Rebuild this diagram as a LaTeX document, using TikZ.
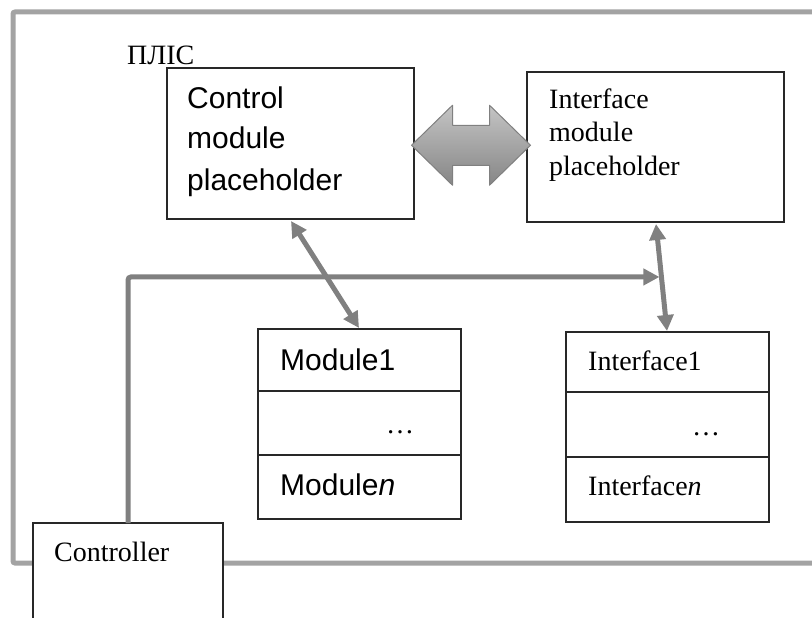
\documentclass[tikz,border=0pt]{standalone}
\usepackage{fontspec}
\setmainfont{Liberation Serif}
\newfontfamily\arialf{Liberation Sans}
\usetikzlibrary{arrows.meta,calc}
\definecolor{framegray}{RGB}{163,163,163}
\definecolor{conngray}{RGB}{128,128,128}
\definecolor{boxline}{RGB}{40,40,40}
\begin{document}
\begin{tikzpicture}[x=1pt,y=-1pt,
  box/.style={draw=boxline,line width=1.2pt,fill=white,inner sep=0pt,outer sep=0pt,anchor=north west,rectangle},
  serif/.style={font=\fontsize{28}{34}\selectfont,anchor=base west,inner sep=0pt},
  sans/.style={font=\arialf\fontsize{30}{36}\selectfont,anchor=base west,inner sep=0pt},
  conn/.style={draw=conngray,line width=5pt},
  tipA/.tip={Triangle[length=16pt,width=16pt]}]
\useasboundingbox (0,0) rectangle (812,618);
% outer frame
\draw[framegray,line width=5pt,rounded corners=2pt] (840,12) -- (13,12) -- (13,563) -- (840,563);
% boxes
\node[box,minimum width=247pt,minimum height=151pt] (ctrl) at (167,68) {};
\node[box,minimum width=257pt,minimum height=150pt] (iface) at (527,72) {};
\node[box,minimum width=203pt,minimum height=62pt] (mod1) at (258,329) {};
\node[box,minimum width=203pt,minimum height=64pt] (moddots) at (258,391) {};
\node[box,minimum width=203pt,minimum height=64pt] (modn) at (258,455) {};
\node[box,minimum width=203pt,minimum height=60pt] (if1) at (566,332) {};
\node[box,minimum width=203pt,minimum height=65pt] (ifdots) at (566,392) {};
\node[box,minimum width=203pt,minimum height=65pt] (ifn) at (566,457) {};
% connector anchor points
\coordinate (ca) at ([xshift=124pt,yshift=-2pt]ctrl.south west);
\coordinate (cb) at ([xshift=101pt,yshift=1pt]mod1.north west);
\coordinate (ia) at ([xshift=129pt,yshift=-2pt]iface.south west);
\coordinate (ib) at ([xshift=101pt,yshift=1pt]if1.north west);
\coordinate (imid) at ($(ia)!0.495!(ib)$);
% big double arrow between control and interface modules
\coordinate (bmid) at ($(ctrl.east)!0.5!(iface.west)$);
\begin{scope}[shift={(bmid)}]
\shade[top color={rgb,255:red,196;green,196;blue,196},bottom color={rgb,255:red,134;green,134;blue,134},draw=conngray,line width=1pt,line join=round]
  (-59,0) -- (-18,-40) -- (-18,-20) -- (19,-20) -- (19,-40) -- (60,0) -- (19,40) -- (19,20) -- (-18,20) -- (-18,40) -- cycle;
\end{scope}
% controller
\node[box,minimum width=190pt,minimum height=120pt] (controller) at (33,523) {};
% connectors
\draw[conn,tipA-tipA] (ca) -- (cb);
\draw[conn,rounded corners=3pt,-tipA] (controller.north) |- ([xshift=-2pt]imid);
\draw[conn,tipA-tipA] (ia) -- (ib);
% texts
\node[serif] (plis) at (127,65) {ПЛІС};
\node[sans] (t1) at (187,108) {Control};
\node[sans] (t2) at (187,149) {module};
\node[sans] (t3) at (187,190) {placeholder};
\node[serif] (u1) at (549,108) {Interface};
\node[serif] (u2) at (549,141) {module};
\node[serif] (u3) at (549,175) {placeholder};
\node[sans] (m1) at (280,370) {Module1};
\node[serif] (md) at (386,433) {…};
\node[sans] (mn) at (280,495) {Module\textit{n}};
\node[serif] (i1) at (588,370) {Interface1};
\node[serif] (id) at (692,435) {…};
\node[serif] (in) at (588,495) {Interface\textit{n}};
\node[serif] (ct) at (54,561) {Controller};
\end{tikzpicture}
\end{document}
